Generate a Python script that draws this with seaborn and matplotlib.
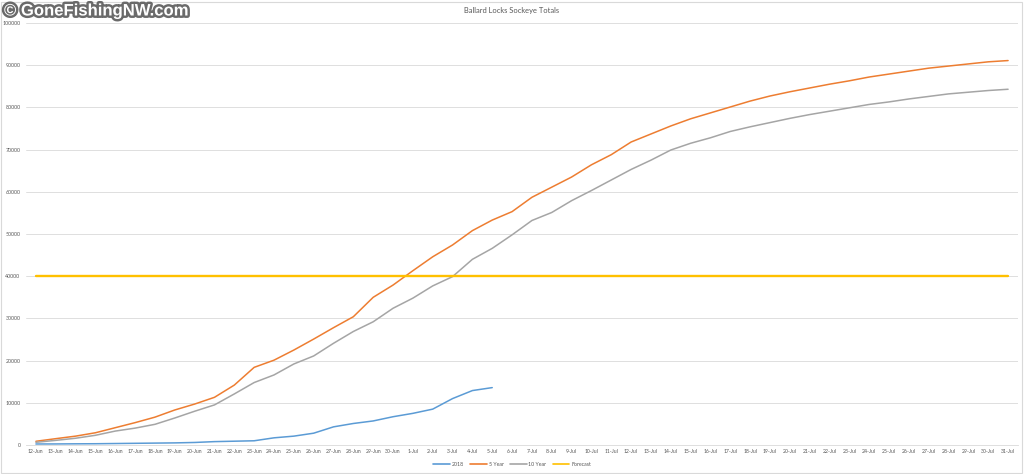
import pandas as pd
import matplotlib
matplotlib.use("Agg")
import matplotlib.pyplot as plt
import matplotlib.patheffects as pe
from matplotlib.patches import Rectangle
import numpy as np
import seaborn as sns

dates = ["12-Jun", "13-Jun", "14-Jun", "15-Jun", "16-Jun", "17-Jun", "18-Jun", "19-Jun",
         "20-Jun", "21-Jun", "22-Jun", "23-Jun", "24-Jun", "25-Jun", "26-Jun", "27-Jun",
         "28-Jun", "29-Jun", "30-Jun", "1-Jul", "2-Jul", "3-Jul", "4-Jul", "5-Jul",
         "6-Jul", "7-Jul", "8-Jul", "9-Jul", "10-Jul", "11-Jul", "12-Jul", "13-Jul",
         "14-Jul", "15-Jul", "16-Jul", "17-Jul", "18-Jul", "19-Jul", "20-Jul", "21-Jul",
         "22-Jul", "23-Jul", "24-Jul", "25-Jul", "26-Jul", "27-Jul", "28-Jul", "29-Jul",
         "30-Jul", "31-Jul"]

y2018 = [240, 250, 280, 300, 350, 400, 450, 500, 600, 800, 900, 1000, 1700, 2100,
         2800, 4300, 5100, 5700, 6700, 7500, 8500, 11000, 12900, 13600]

five_year = [880, 1500, 2100, 2900, 4100, 5300, 6600, 8300, 9700, 11300, 14200, 18400,
             20100, 22500, 25100, 27800, 30400, 35000, 37900, 41300, 44600, 47400,
             50800, 53300, 55300, 58700, 61100, 63500, 66400, 68800, 71800, 73700,
             75600, 77300, 78700, 80100, 81500, 82700, 83700, 84600, 85500, 86300,
             87200, 87900, 88600, 89300, 89800, 90300, 90800, 91100]

ten_year = [640, 1100, 1600, 2300, 3300, 4000, 4900, 6400, 8000, 9500, 12100, 14800,
            16600, 19200, 21100, 24100, 26900, 29200, 32400, 34800, 37700, 39900,
            44000, 46600, 49800, 53200, 55100, 57900, 60300, 62800, 65300, 67500,
            69900, 71500, 72800, 74300, 75400, 76400, 77400, 78300, 79100, 79900,
            80700, 81300, 82000, 82600, 83200, 83600, 84000, 84300]

forecast = [40000] * len(dates)

series_names = ["2018", "5 Year", "10 Year", "Forecast"]
colors = ["#5B9BD5", "#ED7D31", "#A5A5A5", "#FFC000"]

rows = []
for name, vals in zip(series_names, [y2018, five_year, ten_year, forecast]):
    for i, v in enumerate(vals):
        rows.append({"day": i, "fish": v, "series": name})
df = pd.DataFrame(rows)

sns.set_style("white")
plt.rcParams["font.family"] = ["Lato", "DejaVu Sans"]

W, H = 1024, 474
fig = plt.figure(figsize=(W / 100, H / 100), dpi=100)
ax = fig.add_axes([26 / W, (H - 445) / H, (1018 - 26) / W, (445 - 23) / H])

sns.lineplot(data=df, x="day", y="fish", hue="series", hue_order=series_names,
             palette=colors, ax=ax, linewidth=1.1, legend=False)
# forecast line a little thicker
ax.lines[3].set_linewidth(1.7)

ax.set_xlim(-0.5, len(dates) - 0.5)
ax.set_ylim(0, 100000)
ax.set_yticks(range(0, 100001, 10000))
ax.set_yticklabels([str(v) for v in range(0, 100001, 10000)], fontsize=3.8, color="#595959")
ax.set_xticks(range(len(dates)))
ax.set_xticklabels(dates, fontsize=3.7, color="#595959")
ax.set_xticks(np.arange(-0.5, len(dates), 1.0), minor=True)
ax.tick_params(axis="x", which="major", length=0, pad=3)
ax.tick_params(axis="x", which="minor", length=3, color="#d9d9d9", width=0.6)
ax.tick_params(axis="y", length=0, pad=4)
ax.grid(axis="y", color="#d9d9d9", linewidth=0.6)
ax.set_axisbelow(True)
for s in ["top", "right", "left"]:
    ax.spines[s].set_visible(False)
ax.spines["bottom"].set_color("#d9d9d9")
ax.spines["bottom"].set_linewidth(0.6)
ax.set_xlabel("")
ax.set_ylabel("")

fig.text(0.5, (H - 10) / H, "Ballard Locks Sockeye Totals", ha="center", va="center",
         fontsize=5.4, color="#595959")

handles = [plt.Line2D([], [], color=c, linewidth=1.2) for c in colors]
fig.legend(handles, series_names, loc="center", bbox_to_anchor=(0.5, (H - 464) / H),
           ncol=4, frameon=False, fontsize=3.8, handlelength=3.2, columnspacing=1.2,
           handletextpad=0.3, labelcolor="#595959")

fig.patches.append(Rectangle((1 / W, 1 / H), (W - 3) / W, (H - 3) / H, transform=fig.transFigure,
                             fill=False, edgecolor="#d9d9d9", linewidth=0.8))

fig.text(4 / W, (H - 11) / H, "\u00a9 GoneFishingNW.com", ha="left", va="center",
         fontsize=12, fontweight="bold", color="white", family=["Liberation Sans", "DejaVu Sans"],
         path_effects=[pe.withStroke(linewidth=3.5, foreground="#6a6a6a")])

fig.savefig("out.png", dpi=100, facecolor="white")
